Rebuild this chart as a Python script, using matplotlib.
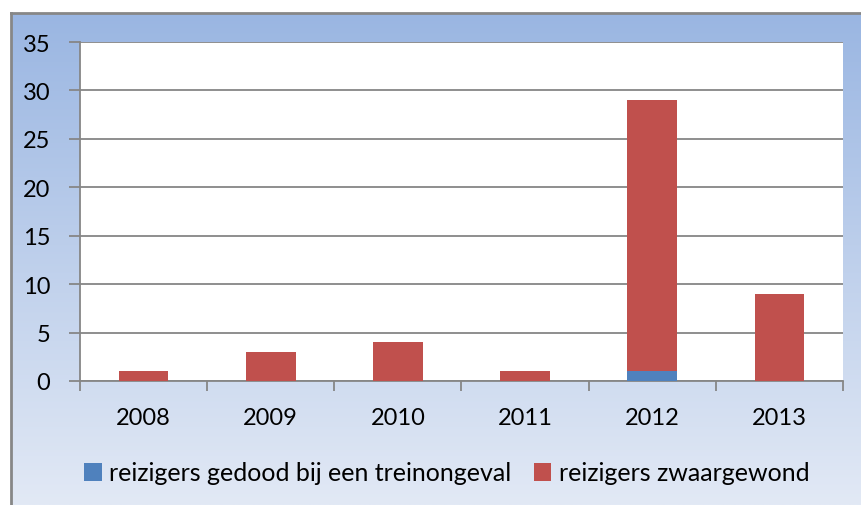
import numpy as np
import matplotlib.pyplot as plt
from matplotlib.patches import Patch

years = ['2008', '2009', '2010', '2011', '2012', '2013']
gedood = [0, 0, 0, 0, 1, 0]
zwaargewond = [1, 3, 4, 1, 28, 9]
labels = ['reizigers gedood bij een treinongeval', 'reizigers zwaargewond']
colors = ['#4F81BD', '#C0504D']

plt.rcParams['font.family'] = ['Lato', 'DejaVu Sans']

fig = plt.figure(figsize=(8.61, 5.06), dpi=100)
fig.patch.set_facecolor('white')

# chart area with a blue vertical gradient and grey frame
bg = fig.add_axes([11 / 861, 0, 1 - 11 / 861, 1 - 14 / 506])
top_c = np.array([0x9A, 0xB6, 0xE2]) / 255
bot_c = np.array([0xE2, 0xE9, 0xF5]) / 255
t = np.linspace(0, 1, 256)[:, None]
grad = (top_c * (1 - t) + bot_c * t)[:, None, :].repeat(2, axis=1)
bg.imshow(grad, aspect='auto', extent=[0, 1, 0, 1], interpolation='bilinear')
bg.set_xlim(0, 1)
bg.set_ylim(0, 1)
bg.set_xticks([])
bg.set_yticks([])
for side in ['right', 'bottom']:
    bg.spines[side].set_visible(False)
for side in ['left', 'top']:
    bg.spines[side].set_color('#878787')
    bg.spines[side].set_linewidth(2)

ax = fig.add_axes([80 / 861, 1 - 382 / 506, (843 - 80) / 861, (382 - 43) / 506])
ax.set_facecolor('white')
x = np.arange(len(years))
w = 0.39
ax.bar(x, gedood, w, color=colors[0], zorder=3)
ax.bar(x, zwaargewond, w, bottom=gedood, color=colors[1], zorder=3)

ax.set_xlim(-0.5, len(years) - 0.5)
ax.set_ylim(0, 35)
ax.set_yticks(range(0, 36, 5))
ax.yaxis.grid(True, color='#868686', linewidth=1.3, zorder=0)
ax.set_axisbelow(True)
ax.set_xticks(x)
ax.set_xticklabels(years)
ax.set_xticks(np.arange(-0.5, len(years)), minor=True)
ax.tick_params(axis='x', which='major', length=0, pad=19, labelsize=17)
ax.tick_params(axis='x', which='minor', length=7, width=1.3, color='#868686')
ax.tick_params(axis='y', length=8, width=1.3, color='#868686', pad=13.5, labelsize=17)
for side in ['top', 'right']:
    ax.spines[side].set_visible(False)
for side in ['left', 'bottom']:
    ax.spines[side].set_color('#868686')
    ax.spines[side].set_linewidth(1.3)

handles = [Patch(facecolor=c) for c in colors]
fig.legend(handles, labels, loc='center', bbox_to_anchor=(0.519, 1 - 474 / 506),
           ncol=2, frameon=False, fontsize=18, handlelength=0.7, handleheight=0.7,
           handletextpad=0.3, columnspacing=0.9)

fig.savefig('out.png', dpi=100)
